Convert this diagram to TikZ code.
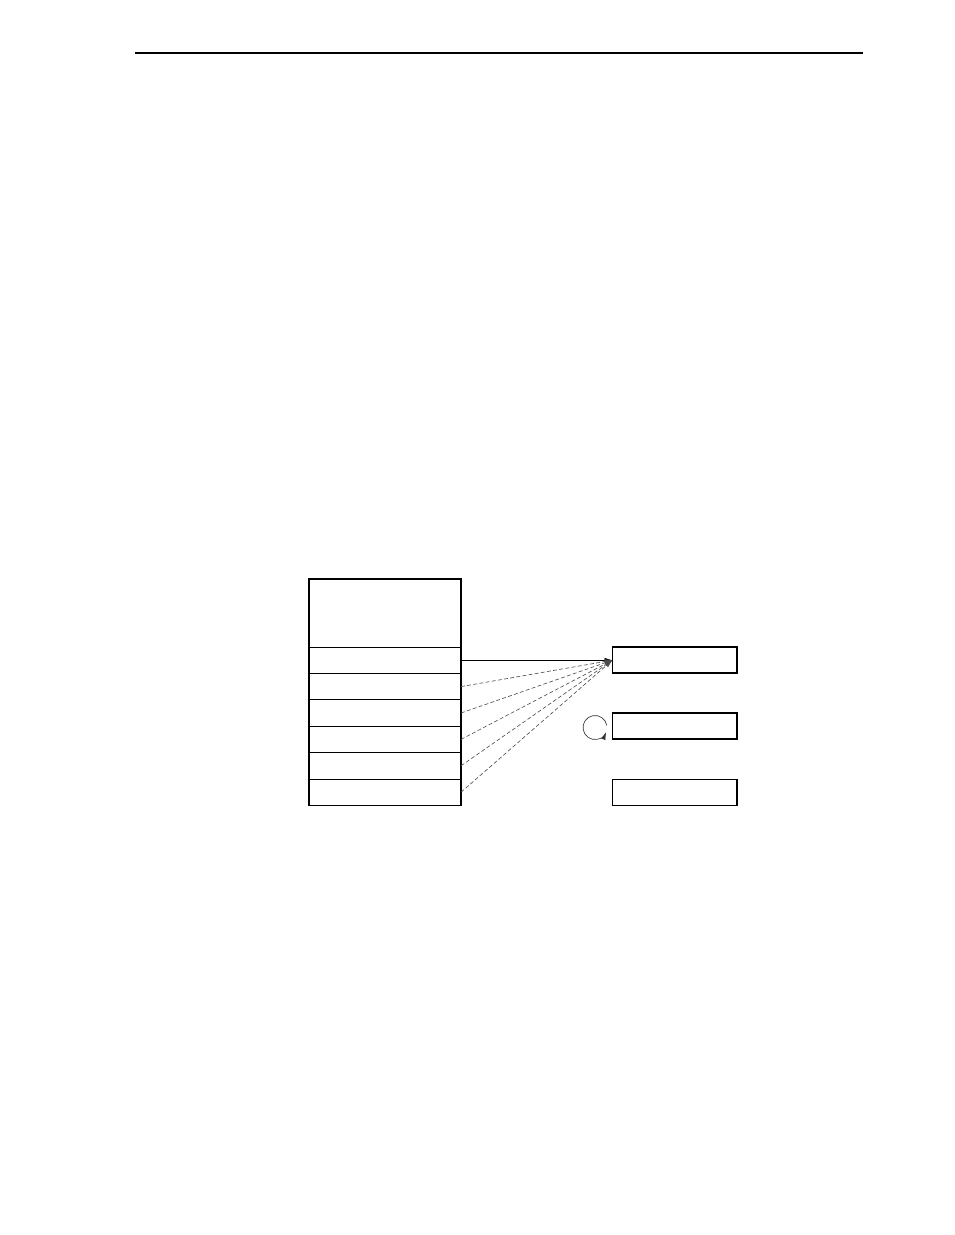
\documentclass[tikz,border=0pt]{standalone}
\usetikzlibrary{arrows.meta}
\begin{document}
\begin{tikzpicture}[x=0.6417pt,y=-0.6417pt,
	cell/.style={draw,line width=0.5pt,minimum width=152*0.6417pt,minimum height=26.4*0.6417pt,inner sep=0pt,outer sep=0pt},
	regbox/.style={draw,line width=1pt,minimum width=124.5*0.6417pt,minimum height=26*0.6417pt,inner sep=0pt,outer sep=0pt},
	ptr/.style={-{Latex[length=5pt,width=3pt]},line width=0.4pt}]
	\useasboundingbox (0,0) rectangle (954,1235);
	\draw[line width=0.8pt] (135,53) -- (863,53);

	% stack
	\node[cell,minimum height=68*0.6417pt] (head) at (385,613) {};
	\foreach \i in {1,...,6}
		\node[cell] (row\i) at (385,{647+26.4*(\i-0.5)}) {};
	\draw[line width=0.9pt] (head.north west) rectangle (row6.south east);

	% boxes on the right
	\node[regbox] (r1) at (674.7,660.2) {};
	\node[regbox] (r2) at (674.7,726) {};
	\node[regbox] (r3) at (674.7,792.5) {};

	\draw[ptr] (row1.east) -- (r1.west);
	\foreach \i in {2,...,6}
		\draw[ptr,gray!60!black,dash pattern=on 2.5pt off 1.5pt] (row\i.east) -- (r1.west);

	\coordinate (spin) at (595,727.5);
	\draw[ptr,gray!40!black] ([shift={(10:7.7pt)}]spin) arc[start angle=10,end angle=338,radius=7.7pt];
\end{tikzpicture}
\end{document}
